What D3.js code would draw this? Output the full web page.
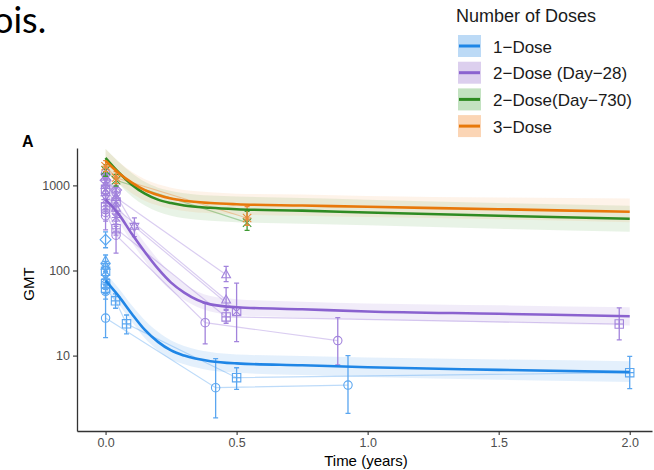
<!DOCTYPE html>
<html>
<head>
<meta charset="utf-8">
<script src="https://cdn.jsdelivr.net/npm/d3@7"></script>
<style>
  body { margin: 0; background: #fff; }
  svg { display: block; font-family: "Liberation Sans", Arial, sans-serif; }
</style>
</head>
<body>
<svg width="654" height="470"></svg>
<script>
// fitted curves (GMT) at these times, in years
var fitTimes = [0, 0.05, 0.1, 0.15, 0.2, 0.25, 0.3, 0.4, 0.5, 0.75, 1.0, 1.5, 2.0];

var oneDoseFit   = [76, 50, 31, 20, 14.5, 11.5, 10, 8.6, 8.1, 7.7, 7.3, 6.8, 6.4];
var oneDoseLower = [62, 40, 25, 16, 11.5, 9, 7.9, 6.7, 6.3, 5.9, 5.6, 5.2, 4.9];
var oneDoseUpper = [93, 62, 39, 26, 19, 15, 13, 11, 10.3, 9.9, 9.5, 9, 8.6];

var twoDose28Fit   = [680, 460, 270, 165, 105, 72, 55, 40, 37, 35, 33, 31, 29];
var twoDose28Lower = [560, 370, 215, 130, 82, 58, 45, 33, 30, 28, 26.5, 24.5, 22.5];
var twoDose28Upper = [830, 570, 340, 210, 135, 92, 70, 50, 46, 43, 41, 39, 37];

var twoDose730Fit   = [2100, 1420, 1020, 800, 680, 620, 580, 545, 525, 505, 480, 440, 405];
var twoDose730Lower = [1600, 1050, 740, 580, 490, 440, 410, 385, 370, 355, 340, 310, 285];
var twoDose730Upper = [2700, 1900, 1400, 1100, 940, 860, 810, 760, 740, 710, 680, 620, 575];

var threeDoseFit   = [1950, 1400, 1080, 880, 770, 700, 660, 620, 600, 580, 560, 525, 490];
var threeDoseLower = [1450, 1050, 810, 660, 580, 530, 500, 470, 455, 440, 425, 400, 370];
var threeDoseUpper = [2650, 1900, 1450, 1180, 1030, 940, 880, 830, 800, 780, 750, 720, 700];

// observed study GMTs: [study, shape, time, gmt, lower, upper]
var oneDoseObs = [
  ["b1", "circle", 0, 27.6, 16.3, 53], ["b1", "circle", 0.42, 4.2, 1.85, 9.2], ["b1", "circle", 0.925, 4.5, 2.1, 10],
  ["b2", "squarePlus", 0, 62, 54, 72], ["b2", "squarePlus", 0.038, 44, 36, 53], ["b2", "squarePlus", 0.08, 23.6, 18, 30],
  ["b2", "squarePlus", 0.5, 5.5, 4.0, 7.2], ["b2", "squarePlus", 2.0, 6.3, 4.1, 9.8],
  ["b3", "diamond", 0, 230, 185, 285],
  ["b4", "triangle", 0, 130, 112, 152],
  ["b5", "hexagram", 0, 112, 98, 128],
  ["b6", "squareCross", 0, 98, 86, 112],
  ["b7", "asterisk", 0, 80, 68, 94],
  ["b8", "square", 0, 70, 60, 82],
  ["b9", "circle", 0, 57, 46, 66]
];

var twoDose28Obs = [
  ["p1", "circle", 0, 480, 300, 620], ["p1", "circle", 0.04, 260, 160, 330], ["p1", "circle", 0.38, 24.4, 13.7, 41], ["p1", "circle", 0.886, 15, 7.8, 28],
  ["p2", "squarePlus", 0, 560, 470, 680], ["p2", "squarePlus", 0.04, 310, 260, 380], ["p2", "squarePlus", 0.46, 28.5, 24, 34], ["p2", "squarePlus", 1.96, 23.5, 15.3, 36.4],
  ["p3", "triangle", 0, 1000, 860, 1180], ["p3", "triangle", 0.04, 720, 610, 850], ["p3", "triangle", 0.46, 89, 74, 112],
  ["p4", "triangle", 0, 820, 700, 960], ["p4", "triangle", 0.04, 540, 460, 630], ["p4", "triangle", 0.46, 45, 35, 63],
  ["p5", "hexagram", 0, 1250, 1080, 1450], ["p5", "hexagram", 0.11, 330, 250, 415], ["p5", "squareCross", 0.5, 33, 14.6, 71],
  ["p6", "diamond", 0, 1150, 1000, 1330], ["p6", "diamond", 0.04, 880, 760, 1000],
  ["p7", "asterisk", 0, 680, 580, 800], ["p7", "asterisk", 0.04, 420, 350, 500],
  ["p8", "circlePlus", 0, 1380, 1200, 1550], ["p8", "circlePlus", 0.04, 820, 700, 950],
  ["p9", "squareCross", 0, 900, 780, 1040], ["p9", "squareCross", 0.04, 640, 560, 740],
  ["p10", "circle", 0, 440, 380, 520]
];

var twoDose730Obs = [
  ["g1", "cross", 0, 1500, 1280, 1750], ["g1", "cross", 0.04, 1150, 980, 1350], ["g1", "cross", 0.54, 365, 296, 494]
];

var threeDoseObs = [
  ["o1", "asterisk", 0, 1680, 1450, 1950], ["o1", "asterisk", 0.04, 1230, 1050, 1450], ["o1", "asterisk", 0.54, 414, 340, 562]
];

var doseLabels = ["1\u2212Dose", "2\u2212Dose (Day\u221228)", "2\u2212Dose(Day\u2212730)", "3\u2212Dose"];
var xTicks = [0, 0.5, 1.0, 1.5, 2.0];
var yTicks = [10, 100, 1000];

var series = [
  { name: doseLabels[0], fit: oneDoseFit, lo: oneDoseLower, hi: oneDoseUpper, obs: oneDoseObs,
    line: "#1f86e6", point: "#5aa6f0", band: "#1f86e6", key: "#bcdaf6" },
  { name: doseLabels[1], fit: twoDose28Fit, lo: twoDose28Lower, hi: twoDose28Upper, obs: twoDose28Obs,
    line: "#8a62cf", point: "#a283dc", band: "#8a62cf", key: "#dccfee" },
  { name: doseLabels[2], fit: twoDose730Fit, lo: twoDose730Lower, hi: twoDose730Upper, obs: twoDose730Obs,
    line: "#2e8b22", point: "#3f9a33", band: "#3f9a33", key: "#c3e2c1" },
  { name: doseLabels[3], fit: threeDoseFit, lo: threeDoseLower, hi: threeDoseUpper, obs: threeDoseObs,
    line: "#e8780a", point: "#ec8a3a", band: "#f39a4a", key: "#fbd5b5" }
];

var svg = d3.select("svg");

var x = d3.scaleLinear().domain([-0.109, 2.085]).range([77, 652]);
var y = d3.scaleLog().domain([1.3, 2750]).range([431, 148]);

// marker shapes like ggplot's open symbols
function symbolPath(shape, r) {
  var circle = "M" + (-r) + ",0A" + r + "," + r + " 0 1 0 " + r + ",0A" + r + "," + r + " 0 1 0 " + (-r) + ",0";
  var square = "M" + (-r) + "," + (-r) + "H" + r + "V" + r + "H" + (-r) + "Z";
  var plus = "M" + (-r) + ",0H" + r + "M0," + (-r) + "V" + r;
  var cross = "M" + (-r) + "," + (-r) + "L" + r + "," + r + "M" + (-r) + "," + r + "L" + r + "," + (-r);
  var up = "M0," + (-r * 1.2) + "L" + r * 1.05 + "," + r * 0.7 + "L" + (-r * 1.05) + "," + r * 0.7 + "Z";
  var down = "M0," + r * 1.2 + "L" + r * 1.05 + "," + (-r * 0.7) + "L" + (-r * 1.05) + "," + (-r * 0.7) + "Z";
  var dr = r * 1.3;
  var diamond = "M0," + (-dr) + "L" + dr + ",0L0," + dr + "L" + (-dr) + ",0Z";
  switch (shape) {
    case "circle": return circle;
    case "square": return square;
    case "squarePlus": return square + plus;
    case "squareCross": return square + cross;
    case "circlePlus": return circle + plus;
    case "triangle": return up;
    case "hexagram": return up + down;
    case "diamond": return diamond;
    case "asterisk": return plus + cross;
    case "cross": return cross;
  }
  return circle;
}

// ribbons
var area = d3.area()
  .x(function(d, i) { return x(fitTimes[i]); })
  .y0(function(d) { return y(d[0]); })
  .y1(function(d) { return y(d[1]); })
  .curve(d3.curveMonotoneX);

var bands = svg.append("g");
series.forEach(function(s) {
  bands.append("path")
    .datum(s.lo.map(function(v, i) { return [v, s.hi[i]]; }))
    .attr("d", area)
    .attr("fill", s.band)
    .attr("fill-opacity", 0.12);
});

// observed data: study trajectories, error bars, symbols
var obsLayer = svg.append("g");
series.forEach(function(s) {
  var studies = d3.groups(s.obs, function(r) { return r[0]; });
  var g = obsLayer.append("g");

  g.selectAll(".study")
    .data(studies.filter(function(st) { return st[1].length > 1; }))
    .enter()
    .append("path")
    .attr("class", "study")
    .attr("fill", "none")
    .attr("stroke", s.point)
    .attr("stroke-opacity", 0.4)
    .attr("stroke-width", 1.2)
    .attr("d", function(st) {
      return d3.line()
        .x(function(r) { return x(r[2]); })
        .y(function(r) { return y(r[3]); })(st[1]);
    });

  g.selectAll(".err")
    .data(s.obs)
    .enter()
    .append("path")
    .attr("class", "err")
    .attr("fill", "none")
    .attr("stroke", s.point)
    .attr("stroke-width", 1.3)
    .attr("d", function(r) {
      var cx = x(r[2]), lo = y(r[4]), hi = y(r[5]);
      return "M" + cx + "," + lo + "V" + hi +
        "M" + (cx - 2.5) + "," + lo + "H" + (cx + 2.5) +
        "M" + (cx - 2.5) + "," + hi + "H" + (cx + 2.5);
    });

  g.selectAll(".pt")
    .data(s.obs)
    .enter()
    .append("path")
    .attr("class", "pt")
    .attr("fill", "none")
    .attr("stroke", s.point)
    .attr("stroke-width", 1.1)
    .attr("transform", function(r) { return "translate(" + x(r[2]) + "," + y(r[3]) + ")"; })
    .attr("d", function(r) { return symbolPath(r[1], 4.2); });
});

// fitted lines on top
var line = d3.line()
  .x(function(d, i) { return x(fitTimes[i]); })
  .y(function(d) { return y(d); })
  .curve(d3.curveMonotoneX);

var fits = svg.append("g");
series.forEach(function(s) {
  fits.append("path")
    .datum(s.fit)
    .attr("d", line)
    .attr("fill", "none")
    .attr("stroke", s.line)
    .attr("stroke-width", 2.6);
});

// axes
var xAxis = svg.append("g")
  .attr("transform", "translate(0,431)")
  .call(d3.axisBottom(x).tickValues(xTicks).tickFormat(d3.format(".1f"))
    .tickSizeInner(4).tickSizeOuter(0).tickPadding(3));
var yAxis = svg.append("g")
  .attr("transform", "translate(77,0)")
  .call(d3.axisLeft(y).tickValues(yTicks).tickFormat(d3.format("d"))
    .tickSizeInner(4).tickSizeOuter(0).tickPadding(3));

[xAxis, yAxis].forEach(function(a) {
  a.select(".domain").attr("stroke", "#333").attr("stroke-width", 1.3);
  a.selectAll(".tick line").attr("stroke", "#333").attr("stroke-width", 1.1);
  a.selectAll(".tick text").attr("fill", "#4d4d4d").style("font-size", "12.5px")
    .style("font-family", "'Liberation Sans', Arial, sans-serif");
});

svg.append("text")
  .attr("x", 366).attr("y", 466)
  .attr("text-anchor", "middle")
  .style("font-size", "15px")
  .text("Time (years)");

svg.append("text")
  .attr("transform", "translate(34,284) rotate(-90)")
  .attr("text-anchor", "middle")
  .style("font-size", "15px")
  .text("GMT");

svg.append("text")
  .attr("x", 22).attr("y", 147)
  .style("font-size", "16px")
  .style("font-weight", "bold")
  .text("A");

// slide text cut at the left edge
svg.append("text")
  .attr("x", -7).attr("y", 33)
  .style("font-family", "Lato, sans-serif")
  .style("font-size", "36px")
  .text("ois.");

// legend
var legend = svg.append("g");
legend.append("text")
  .attr("x", 456).attr("y", 22)
  .style("font-size", "18px")
  .attr("fill", "#1a1a1a")
  .text("Number of Doses");

var keys = legend.selectAll(".key")
  .data(series)
  .enter()
  .append("g")
  .attr("class", "key")
  .attr("transform", function(d, i) { return "translate(458," + (35 + i * 26.7) + ")"; });

keys.append("rect")
  .attr("width", 23).attr("height", 22)
  .attr("fill", function(d) { return d.key; });
keys.append("line")
  .attr("x1", 1).attr("x2", 22)
  .attr("y1", 11).attr("y2", 11)
  .attr("stroke", function(d) { return d.line; })
  .attr("stroke-width", 3);
keys.append("text")
  .attr("x", 35).attr("y", 17.5)
  .style("font-size", "17px")
  .attr("fill", "#1a1a1a")
  .text(function(d) { return d.name; });
</script>
</body>
</html>
